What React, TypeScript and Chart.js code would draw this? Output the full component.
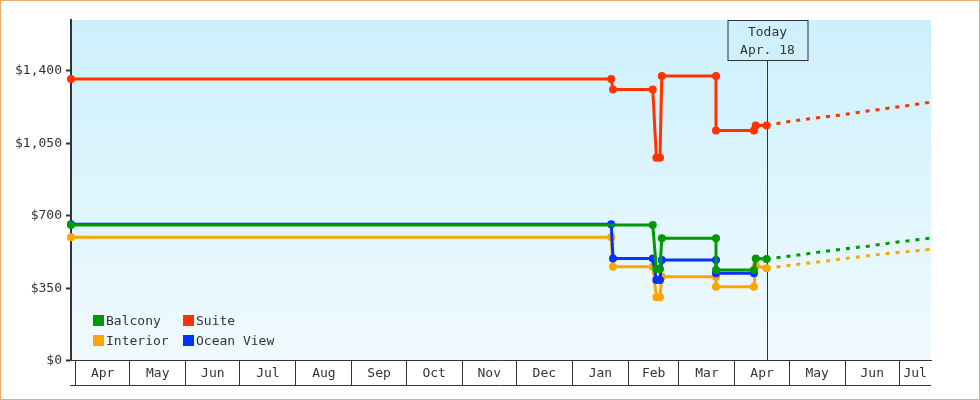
import React, { useEffect, useRef } from 'react';
import { Chart, registerables } from 'chart.js';

Chart.register(...registerables);

const FONT = '"DejaVu Sans Mono", "Liberation Mono", monospace';
const TEXT = '#333333';

// ---- series ----
const seriesNames = ['Balcony', 'Interior', 'Suite', 'Ocean View'];
const seriesColors = ['#009900', '#ffa500', '#ff3300', '#0033ff'];

const balconyDates = ['2024-03-29', '2025-02-14', '2025-02-16', '2025-02-18', '2025-02-19', '2025-03-21', '2025-03-21', '2025-04-11', '2025-04-12', '2025-04-18'];
const balconyPrices = [655, 655, 443, 443, 591, 591, 438, 438, 494, 491];

const interiorDates = ['2024-03-29', '2025-01-22', '2025-01-23', '2025-02-14', '2025-02-16', '2025-02-18', '2025-02-19', '2025-03-21', '2025-03-21', '2025-04-11', '2025-04-12', '2025-04-18'];
const interiorPrices = [596, 596, 454, 454, 306, 306, 405, 405, 357, 357, 458, 446];

const suiteDates = ['2024-03-29', '2025-01-22', '2025-01-23', '2025-02-14', '2025-02-16', '2025-02-18', '2025-02-19', '2025-03-21', '2025-03-21', '2025-04-11', '2025-04-12', '2025-04-18'];
const suitePrices = [1360, 1360, 1310, 1310, 980, 980, 1375, 1375, 1112, 1112, 1136, 1136];

const oceanDates = ['2024-03-29', '2025-01-22', '2025-01-23', '2025-02-14', '2025-02-16', '2025-02-18', '2025-02-19', '2025-03-21', '2025-03-21', '2025-04-11'];
const oceanPrices = [659, 659, 494, 494, 390, 390, 486, 486, 422, 422];

// forecast (dotted)
const forecastDates = ['2025-04-18', '2025-05-02', '2025-05-16', '2025-05-30', '2025-06-13', '2025-06-27', '2025-07-11', '2025-07-18'];
const balconyForecast = [491, 506, 523, 539, 553, 570, 585, 592];
const interiorForecast = [446, 462, 476, 492, 507, 520, 532, 538];
const suiteForecast = [1136, 1157, 1173, 1187, 1206, 1222, 1239, 1249];

// ---- axes ----
const rangeStart = '2024-03-29';
const rangeEnd = '2025-07-18';
const todayDate = '2025-04-18';
const todayLines = ['Today', 'Apr. 18'];

const monthStarts = ['2024-04-01', '2024-05-01', '2024-06-01', '2024-07-01', '2024-08-01', '2024-09-01', '2024-10-01', '2024-11-01', '2024-12-01', '2025-01-01', '2025-02-01', '2025-03-01', '2025-04-01', '2025-05-01', '2025-06-01', '2025-07-01'];
const monthLabels = ['Apr', 'May', 'Jun', 'Jul', 'Aug', 'Sep', 'Oct', 'Nov', 'Dec', 'Jan', 'Feb', 'Mar', 'Apr', 'May', 'Jun', 'Jul'];

const yTickValues = [0, 350, 700, 1050, 1400];
const yTickLabels = ['$0', '$350', '$700', '$1,050', '$1,400'];
const yMin = 0;
const yMax = 1645;

// ---- helpers ----
const BASE = Date.UTC(2024, 3, 1);
const DAY = 86400000;
const dayOf = (s: string) => (Date.parse(s + 'T12:00:00Z') - BASE) / DAY;
const midnightOf = (s: string) => (Date.parse(s + 'T00:00:00Z') - BASE) / DAY;
const pts = (dates: string[], vals: number[]) => dates.map((d, i) => ({ x: dayOf(d), y: vals[i] }));

const xMin = dayOf(rangeStart);
const xMax = dayOf(rangeEnd);
const todayX = dayOf(todayDate);

type XT = { value: number; label: string; boundary: boolean };
const xTicks: XT[] = [];
monthStarts.forEach((s, i) => {
  const start = midnightOf(s);
  const end = i + 1 < monthStarts.length ? midnightOf(monthStarts[i + 1]) : xMax;
  if (start > xMin && start < xMax) xTicks.push({ value: start, label: '', boundary: true });
  const a = Math.max(start, xMin);
  const b = Math.min(end, xMax);
  xTicks.push({ value: (a + b) / 2, label: monthLabels[i], boundary: false });
});

const solid = (label: string, color: string, data: { x: number; y: number }[]) => ({
  label,
  data,
  borderColor: color,
  backgroundColor: color,
  borderWidth: 3,
  pointRadius: 4,
  pointHoverRadius: 4,
  pointBorderWidth: 0,
  pointBackgroundColor: color,
  tension: 0,
  fill: false,
  clip: false as const,
});

const dotted = (label: string, color: string, data: { x: number; y: number }[]) => ({
  label,
  data,
  borderColor: color,
  backgroundColor: color,
  borderWidth: 3,
  borderDash: [4, 6],
  pointRadius: 0,
  pointHoverRadius: 0,
  tension: 0,
  fill: false,
  clip: false as const,
});

const decorPlugin = {
  id: 'decor',
  beforeDraw(chart: any) {
    const { ctx, chartArea: a } = chart;
    const g = ctx.createLinearGradient(0, a.top, 0, a.bottom);
    g.addColorStop(0, '#ccf0fc');
    g.addColorStop(1, '#f0fafe');
    ctx.save();
    ctx.fillStyle = g;
    ctx.fillRect(a.left, a.top, a.right - a.left, a.bottom - a.top);
    ctx.restore();
  },
  beforeDatasetsDraw(chart: any) {
    const { ctx, chartArea: a } = chart;
    const xs = chart.scales.x;
    const tx = Math.round(xs.getPixelForValue(todayX)) + 0.5;
    const bw = 80;
    const bh = 40;
    const left = Math.round(tx - bw / 2);
    const top = Math.round(a.top) + 0.5;
    ctx.save();
    ctx.strokeStyle = TEXT;
    ctx.lineWidth = 1;
    ctx.strokeRect(left, top, bw, bh);
    ctx.beginPath();
    ctx.moveTo(tx, top + bh);
    ctx.lineTo(tx, a.bottom);
    ctx.stroke();
    ctx.fillStyle = TEXT;
    ctx.font = '13px ' + FONT;
    ctx.textAlign = 'center';
    ctx.textBaseline = 'middle';
    ctx.fillText(todayLines[0], tx, top + 12);
    ctx.fillText(todayLines[1], tx, top + 30);
    ctx.restore();
  },
  afterDraw(chart: any) {
    const { ctx, chartArea: a } = chart;
    const xs = chart.scales.x;
    const y = Math.round(xs.top + 25) - 0.5;
    ctx.save();
    ctx.strokeStyle = TEXT;
    ctx.lineWidth = 1;
    ctx.beginPath();
    ctx.moveTo(a.left - 1, y);
    ctx.lineTo(a.right, y);
    ctx.stroke();
    ctx.restore();
  },
};

export default function App() {
  const ref = useRef<HTMLCanvasElement>(null);

  useEffect(() => {
    const canvas = ref.current;
    if (!canvas) return;
    const [cBal, cInt, cSui, cOce] = seriesColors;
    const datasets: any[] = [
      solid(seriesNames[0], cBal, pts(balconyDates, balconyPrices)),
      dotted(seriesNames[0] + ' forecast', cBal, pts(forecastDates, balconyForecast)),
      solid(seriesNames[2], cSui, pts(suiteDates, suitePrices)),
      dotted(seriesNames[2] + ' forecast', cSui, pts(forecastDates, suiteForecast)),
      solid(seriesNames[3], cOce, pts(oceanDates, oceanPrices)),
      solid(seriesNames[1], cInt, pts(interiorDates, interiorPrices)),
      dotted(seriesNames[1] + ' forecast', cInt, pts(forecastDates, interiorForecast)),
    ];

    const chart = new Chart(canvas, {
      type: 'line',
      data: { datasets },
      options: {
        responsive: false,
        animation: false,
        events: [],
        layout: { padding: { left: 0, top: 19, right: 48, bottom: 8.3 } },
        plugins: {
          legend: { display: false },
          tooltip: { enabled: false },
        },
        scales: {
          x: {
            type: 'linear',
            min: xMin,
            max: xMax,
            afterBuildTicks: (scale: any) => {
              scale.ticks = xTicks.map((t) => ({ value: t.value }));
            },
            afterFit: (scale: any) => {
              scale.height = 30;
            },
            ticks: {
              autoSkip: false,
              maxRotation: 0,
              minRotation: 0,
              padding: -20,
              color: TEXT,
              font: { family: FONT, size: 13 },
              callback: (_v: any, i: number) => (xTicks[i] ? xTicks[i].label : ''),
            },
            grid: {
              display: true,
              drawOnChartArea: false,
              drawTicks: true,
              tickLength: 25,
              lineWidth: 1,
              color: (ctx: any) => (xTicks[ctx.index] && xTicks[ctx.index].boundary ? TEXT : 'rgba(0,0,0,0)'),
            },
            border: { display: true, color: TEXT, width: 1 },
          },
          y: {
            type: 'linear',
            min: yMin,
            max: yMax,
            afterBuildTicks: (scale: any) => {
              scale.ticks = yTickValues.map((v) => ({ value: v }));
            },
            afterFit: (scale: any) => {
              scale.width = 70;
            },
            ticks: {
              padding: 4,
              color: TEXT,
              font: { family: FONT, size: 13 },
              callback: (_v: any, i: number) => yTickLabels[i],
            },
            grid: {
              display: true,
              drawOnChartArea: false,
              drawTicks: true,
              tickLength: 5,
              tickWidth: 2,
              tickColor: TEXT,
              color: TEXT,
            },
            border: { display: true, color: TEXT, width: 2 },
          },
        },
      },
      plugins: [decorPlugin],
    } as any);

    return () => chart.destroy();
  }, []);

  return (
    <div
      style={{
        position: 'fixed',
        left: 0,
        top: 0,
        width: 980,
        height: 400,
        boxSizing: 'border-box',
        border: '1px solid #efab66',
        background: '#ffffff',
      }}
    >
      <canvas ref={ref} width={978} height={398} style={{ display: 'block', width: 978, height: 398 }} />
      {seriesNames.map((name, i) => {
        const col = Math.floor(i / 2);
        const row = i % 2;
        return (
          <div
            key={name}
            style={{
              position: 'absolute',
              left: 92 + col * 90,
              top: 314 + row * 20,
              display: 'flex',
              alignItems: 'center',
              height: 11,
              whiteSpace: 'nowrap',
              fontFamily: FONT,
              fontSize: 13,
              color: TEXT,
            }}
          >
            <span style={{ display: 'inline-block', width: 11, height: 11, background: seriesColors[i] }} />
            <span style={{ marginLeft: 2, lineHeight: '11px' }}>{name}</span>
          </div>
        );
      })}
    </div>
  );
}
